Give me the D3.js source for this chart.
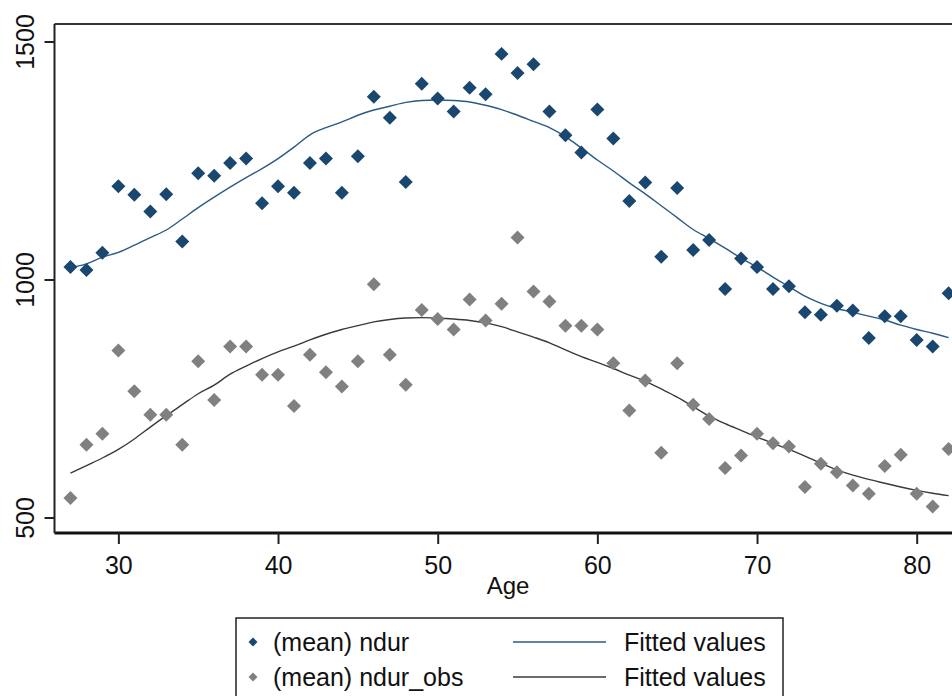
<!DOCTYPE html>
<html>
<head>
<meta charset="utf-8">
<script src="https://cdn.jsdelivr.net/npm/d3@7/dist/d3.min.js"></script>
<style>
  html, body { margin: 0; padding: 0; background: #fff; }
  svg { display: block; }
  text { font-family: "Liberation Sans", Arial, sans-serif; fill: #111; }
</style>
</head>
<body>
<svg id="chart" width="952" height="696"></svg>
<script>
const ages = d3.range(27, 83);
const ndur = [1026,1020,1056,1196,1178,1143,1179,1080,1223,1218,1245,1254,1160,1196,1182,1245,1254,1182,1259,1384,1340,1205,1411,1380,1353,1403,1389,1474,1434,1452,1353,1303,1267,1357,1296,1165,1204,1048,1192,1062,1083,980,1044,1026,980,986,931,926,945,935,877,923,923,873,859,971];
const ndurObs = [541,653,676,851,765,716,716,653,828,747,859,859,800,800,734,842,805,775,828,990,842,779,936,917,895,958,914,949,1088,975,954,903,903,895,824,725,788,636,824,737,707,604,630,676,656,649,564,613,595,567,550,608,632,550,523,644];
const fitNdur = [1025,1033,1047,1057,1072,1088,1104,1127,1151,1173,1194,1214,1233,1254,1278,1304,1319,1331,1345,1356,1364,1372,1376,1377,1376,1373,1366,1357,1345,1332,1319,1300,1276,1251,1228,1203,1180,1155,1130,1105,1086,1066,1045,1026,1005,985,965,950,939,931,923,915,904,895,887,878];
const fitObs = [593,609,625,643,665,690,714,737,760,778,801,818,834,848,860,873,885,895,903,911,916,919,920,919,917,914,909,901,890,879,867,852,838,826,813,799,786,770,753,733,713,697,683,669,656,643,629,614,600,589,580,572,564,557,551,546];
const xTicks = [30, 40, 50, 60, 70, 80];
const yTicks = [500, 1000, 1500];
const legendItems = ["(mean) ndur", "(mean) ndur_obs"];
const fitLabels = ["Fitted values", "Fitted values"];

const blue = "#1a476f", gray = "#808080", blueLine = "#2a5a85", grayLine = "#3a3a3a";

const svg = d3.select("#chart");
const pLeft = 54.5, pTop = 24, pBottom = 533;
const x = d3.scaleLinear().domain([26, 83]).range([pLeft, 964.6]);
const y = d3.scaleLinear().domain([500, 1500]).range([517.5, 41.5]);

svg.append("line").attr("x1", pLeft).attr("x2", 960).attr("y1", pTop).attr("y2", pTop)
  .attr("stroke", "#333").attr("stroke-width", 2);

const line = d3.line().curve(d3.curveMonotoneX).x((d, i) => x(ages[i])).y(d => y(d));
svg.append("path").datum(fitNdur).attr("d", line).attr("fill", "none")
  .attr("stroke", blueLine).attr("stroke-width", 1.4);
svg.append("path").datum(fitObs).attr("d", line).attr("fill", "none")
  .attr("stroke", grayLine).attr("stroke-width", 1.4);

const diamond = d3.symbol().type(d3.symbolSquare).size(98)();
svg.append("g").selectAll("path").data(ndurObs).join("path")
  .attr("d", diamond)
  .attr("transform", (d, i) => `translate(${x(ages[i])},${y(d)}) rotate(45)`)
  .attr("fill", gray);
svg.append("g").selectAll("path").data(ndur).join("path")
  .attr("d", diamond)
  .attr("transform", (d, i) => `translate(${x(ages[i])},${y(d)}) rotate(45)`)
  .attr("fill", blue);

const xAxis = svg.append("g").attr("transform", `translate(0,${pBottom})`)
  .call(d3.axisBottom(x).tickValues(xTicks).tickSize(11).tickPadding(12).tickFormat(d3.format("d")));
xAxis.select(".domain").attr("stroke", "#111").attr("stroke-width", 3).attr("d", `M${pLeft},0H960`);
xAxis.selectAll(".tick line").attr("stroke", "#222").attr("stroke-width", 2);
xAxis.selectAll(".tick text").attr("font-size", 25).attr("fill", "#111")
  .attr("font-family", "Liberation Sans, Arial, sans-serif");

const yAxis = svg.append("g").attr("transform", `translate(${pLeft},0)`)
  .call(d3.axisLeft(y).tickValues(yTicks).tickSize(10).tickPadding(0).tickFormat(d3.format("d")));
yAxis.select(".domain").attr("stroke", "#222").attr("stroke-width", 2).attr("d", `M0,${pTop}V${pBottom}`);
yAxis.selectAll(".tick line").attr("stroke", "#222").attr("stroke-width", 2);
yAxis.selectAll(".tick text")
  .attr("font-size", 25).attr("fill", "#111")
  .attr("font-family", "Liberation Sans, Arial, sans-serif")
  .attr("text-anchor", "middle")
  .attr("x", null).attr("dy", null)
  .attr("transform", "translate(-21,0) rotate(-90)");

svg.append("text").attr("x", 508).attr("y", 594).attr("text-anchor", "middle")
  .attr("font-size", 24).text("Age");

const lg = svg.append("g");
lg.append("rect").attr("x", 236).attr("y", 618).attr("width", 547).attr("height", 100)
  .attr("fill", "#fff").attr("stroke", "#222").attr("stroke-width", 1.5);
const rowY = [642, 677];
const legSym = d3.symbol().type(d3.symbolSquare).size(40)();
legendItems.forEach((t, i) => {
  lg.append("path").attr("d", legSym)
    .attr("transform", `translate(253,${rowY[i]}) rotate(45)`)
    .attr("fill", i === 0 ? blue : gray);
  lg.append("text").attr("x", 273).attr("y", rowY[i] + 9).attr("font-size", 25).text(t);
  lg.append("line").attr("x1", 513).attr("x2", 606).attr("y1", rowY[i]).attr("y2", rowY[i])
    .attr("stroke", i === 0 ? blueLine : grayLine).attr("stroke-width", 1.5);
  lg.append("text").attr("x", 624).attr("y", rowY[i] + 9).attr("font-size", 25).text(fitLabels[i]);
});
</script>
</body>
</html>
